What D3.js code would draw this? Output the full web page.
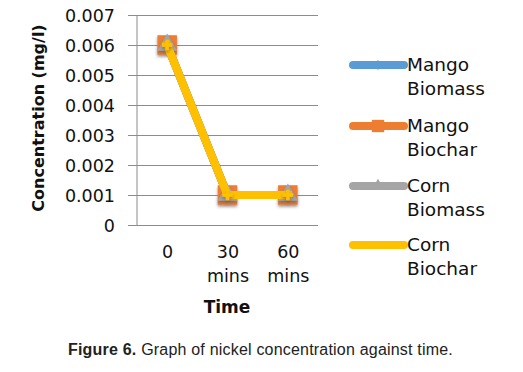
<!DOCTYPE html>
<html>
<head>
<meta charset="utf-8">
<script src="https://cdn.jsdelivr.net/npm/d3@7"></script>
<style>
  body { margin: 0; background: #fff; }
  svg { display: block; }
</style>
</head>
<body>
<div id="chart"></div>
<script>
// chart data
var categories = ["0", "30 mins", "60 mins"];
var mangoBiomass = [0.006, 0.001, 0.001];
var mangoBiochar = [0.006, 0.001, 0.001];
var cornBiomass = [0.006, 0.001, 0.001];
var cornBiochar = [0.006, 0.001, 0.001];
var seriesNames = ["Mango Biomass", "Mango Biochar", "Corn Biomass", "Corn Biochar"];
var yTicks = [0, 0.001, 0.002, 0.003, 0.004, 0.005, 0.006, 0.007];

var svgWidth = 523;
var svgHeight = 372;

var plot = { left: 137, right: 318, top: 15, bottom: 225 };
var axisFont = "'DejaVu Sans', sans-serif";

var svg = d3.select("#chart")
  .append("svg")
  .attr("width", svgWidth)
  .attr("height", svgHeight);

var defs = svg.append("defs");
var shadow = defs.append("filter").attr("id", "shadow")
  .attr("x", "-50%").attr("y", "-50%").attr("width", "200%").attr("height", "200%");
shadow.append("feDropShadow")
  .attr("dx", 0).attr("dy", 2).attr("stdDeviation", 1.8)
  .attr("flood-color", "#555").attr("flood-opacity", 0.6);

var x = d3.scalePoint()
  .domain(categories)
  .range([plot.left, plot.right])
  .padding(0.5);

var y = d3.scaleLinear()
  .domain([0, 0.007])
  .range([plot.bottom, plot.top]);

// gridlines
var grid = svg.append("g")
  .attr("transform", `translate(128, 0)`)
  .call(d3.axisRight(y).tickValues(yTicks).tickSize(plot.right - 128).tickFormat(""));
grid.select(".domain").remove();
grid.selectAll("line").attr("stroke", "#8c8c8c").attr("stroke-width", 1);

// y axis line
svg.append("line")
  .attr("x1", plot.left).attr("x2", plot.left)
  .attr("y1", plot.top).attr("y2", plot.bottom)
  .attr("stroke", "#8c8c8c");

// y tick labels
var yAxis = svg.append("g")
  .attr("transform", `translate(${plot.left}, 0)`)
  .call(d3.axisLeft(y).tickValues(yTicks).tickSize(0).tickPadding(22)
    .tickFormat(d => d === 0 ? "0" : d3.format(".3f")(d)));
yAxis.select(".domain").remove();
yAxis.selectAll("text")
  .attr("font-family", axisFont)
  .attr("font-size", "17.5px")
  .attr("fill", "#111")
  .attr("dy", "0.36em");

// x tick labels (two lines)
var xAxis = svg.append("g")
  .attr("transform", `translate(0, ${plot.bottom})`)
  .call(d3.axisBottom(x).tickSize(0).tickFormat(""));
xAxis.select(".domain").remove();
xAxis.selectAll(".tick").each(function(d) {
  var parts = d.split(" ");
  var t = d3.select(this).append("text")
    .attr("font-family", axisFont)
    .attr("font-size", "17.5px")
    .attr("fill", "#111")
    .attr("text-anchor", "middle");
  parts.forEach(function(p, i) {
    t.append("tspan").attr("x", 0).attr("y", 33 + i * 24).text(p);
  });
});

// axis titles
svg.append("text")
  .attr("transform", "rotate(-90)")
  .attr("x", -118)
  .attr("y", 44)
  .attr("text-anchor", "middle")
  .attr("font-family", axisFont)
  .attr("font-size", "16px")
  .attr("font-weight", "bold")
  .attr("fill", "#111")
  .text("Concentration (mg/l)");

svg.append("text")
  .attr("x", 227)
  .attr("y", 313)
  .attr("text-anchor", "middle")
  .attr("font-family", axisFont)
  .attr("font-size", "17px")
  .attr("font-weight", "bold")
  .attr("fill", "#111")
  .text("Time");

// series
var series = [
  { name: seriesNames[0], values: mangoBiomass, color: "#5B9BD5", marker: d3.symbolDiamond, size: 80 },
  { name: seriesNames[1], values: mangoBiochar, color: "#ED7D31", marker: d3.symbolSquare, size: 380 },
  { name: seriesNames[2], values: cornBiomass, color: "#A5A5A5", marker: d3.symbolTriangle, size: 170 },
  { name: seriesNames[3], values: cornBiochar, color: "#FFC000", marker: d3.symbolCross, size: 60 }
];

var line = d3.line()
  .x((d, i) => x(categories[i]))
  .y(d => y(d));

series.forEach(function(s) {
  var g = svg.append("g");
  g.append("path")
    .datum(s.values)
    .attr("d", line)
    .attr("fill", "none")
    .attr("stroke", s.color)
    .attr("stroke-width", 8)
    .attr("stroke-linejoin", "round")
    .attr("stroke-linecap", "square");
  g.selectAll("path.marker")
    .data(s.values)
    .enter()
    .append("path")
    .attr("class", "marker")
    .attr("transform", (d, i) => `translate(${x(categories[i])}, ${y(d)})`)
    .attr("d", d3.symbol().type(s.marker).size(s.size))
    .attr("fill", s.color)
    .attr("filter", "url(#shadow)");
});

// legend
var legendY = [65, 126, 186, 245];
var legend = svg.append("g");
series.forEach(function(s, i) {
  var lg = legend.append("g").attr("transform", `translate(0, ${legendY[i]})`);
  lg.append("line")
    .attr("x1", 353).attr("x2", 404)
    .attr("y1", 0).attr("y2", 0)
    .attr("stroke", s.color)
    .attr("stroke-width", 8)
    .attr("stroke-linecap", "round");
  lg.append("path")
    .attr("transform", "translate(378, 0)")
    .attr("d", d3.symbol().type(s.marker).size(s.size * 0.4))
    .attr("fill", s.color);
  var words = s.name.split(" ");
  var t = lg.append("text")
    .attr("font-family", axisFont)
    .attr("font-size", "18.5px")
    .attr("fill", "#111");
  words.forEach(function(w, j) {
    t.append("tspan").attr("x", 407).attr("y", 6 + j * 24).text(w);
  });
});

// caption
var caption = svg.append("text")
  .attr("x", 68)
  .attr("y", 355)
  .attr("font-family", "'Liberation Sans', Arial, sans-serif")
  .attr("font-size", "16px")
  .attr("letter-spacing", "0.2px")
  .attr("fill", "#222");
caption.append("tspan").attr("font-weight", "bold").text("Figure 6.");
caption.append("tspan").text(" Graph of nickel concentration against time.");
</script>
</body>
</html>
